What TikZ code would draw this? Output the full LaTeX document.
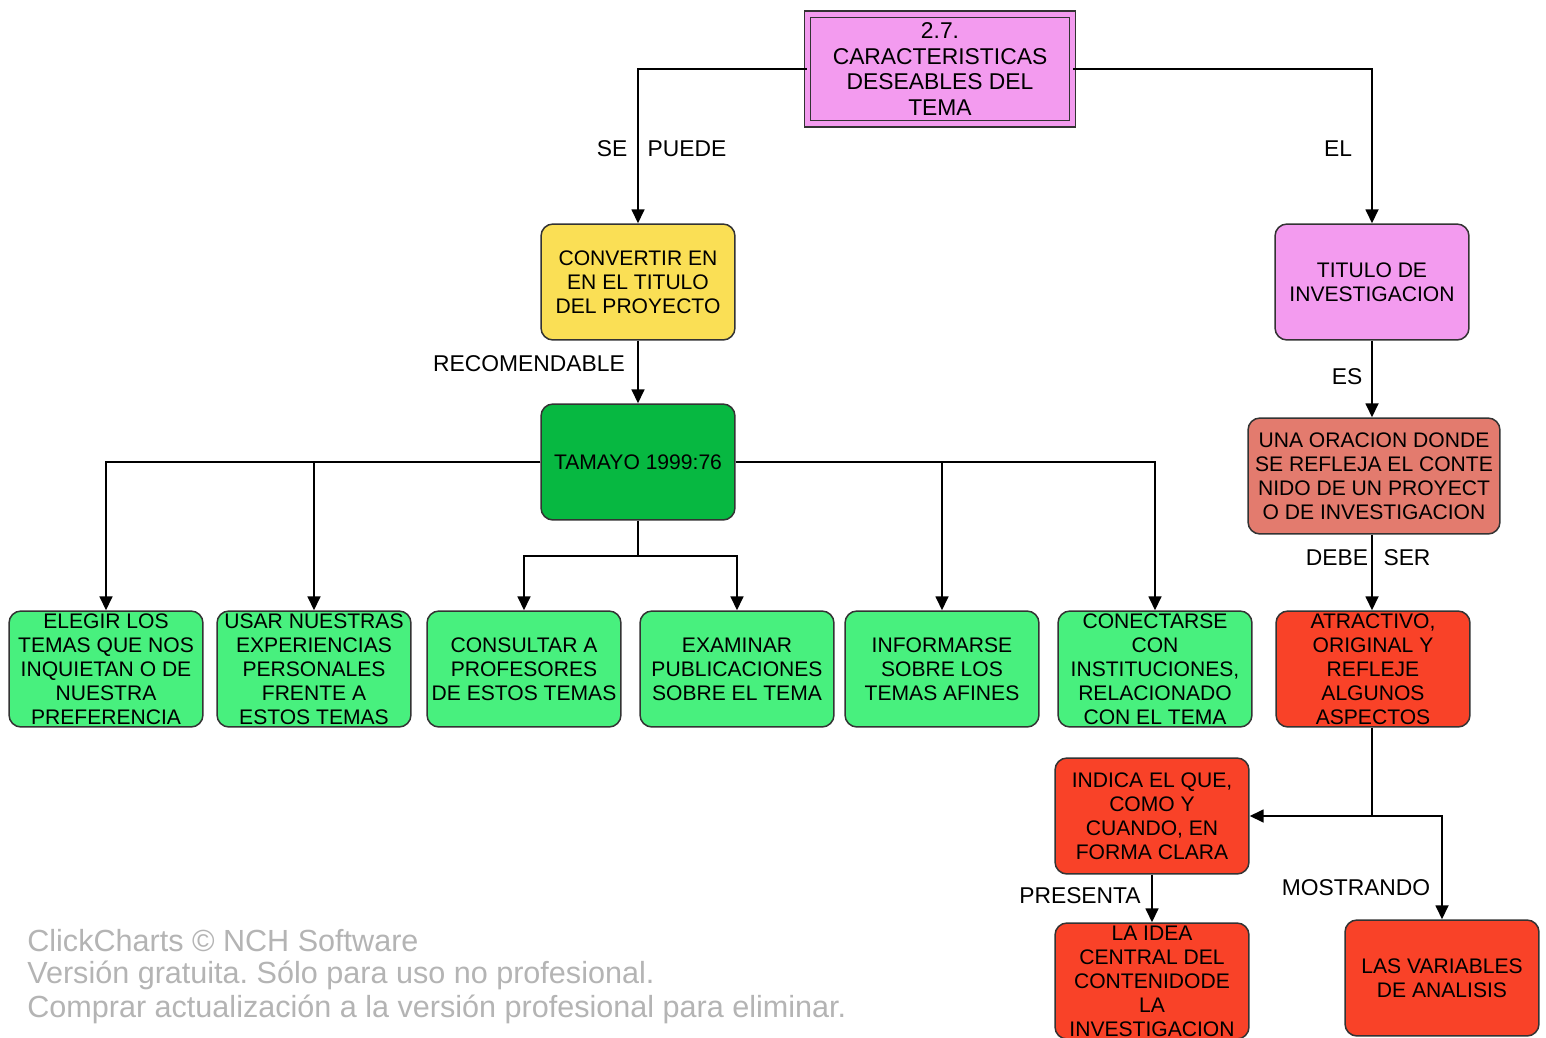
\documentclass[tikz,border=0pt]{standalone}
\usepackage{fontspec}
\setmainfont{Liberation Sans}
\usetikzlibrary{arrows.meta}
\frenchspacing
\definecolor{cviolet}{HTML}{F39BEF}
\definecolor{cyellow}{HTML}{FADF55}
\definecolor{cdgreen}{HTML}{07B841}
\definecolor{clgreen}{HTML}{48F07E}
\definecolor{csalmon}{HTML}{E37B6E}
\definecolor{cred}{HTML}{F94228}
\definecolor{cborder}{HTML}{333333}
\definecolor{cwater}{HTML}{B4B4B4}
\tikzset{
  box/.style={draw=cborder, line width=0.03cm, rounded corners=0.24cm,
    minimum width=3.88cm, minimum height=2.32cm, inner sep=0pt, align=center,
    font=\fontsize{12pt}{13.7pt}\selectfont},
  topbox/.style={draw=cborder, line width=0.025cm, double=cviolet, double distance=0.1cm,
    fill=cviolet, minimum width=5.3cm, minimum height=2.2cm, inner sep=0pt, align=center,
    font=\fontsize{13pt}{14.6pt}\selectfont},
  lbl/.style={font=\fontsize{13pt}{14.6pt}\selectfont, inner sep=0pt},
  arr/.style={line width=0.035cm, -{Triangle[length=0.28cm,width=0.26cm]}},
  ln/.style={line width=0.035cm},
  water/.style={text=cwater, anchor=west, inner sep=0pt, font=\fontsize{17.4pt}{19pt}\selectfont}
}
\begin{document}
\begin{tikzpicture}[x=0.02cm,y=-0.02cm]
\useasboundingbox (0,0) rectangle (1546,1038);
\fill[white] (0,0) rectangle (1546,1038);

% nodes
\node[topbox] (top) at (940,69) {2.7.\\CARACTERISTICAS\\DESEABLES DEL\\TEMA};
\node[box, fill=cyellow] (conv) at (638,282) {CONVERTIR EN\\EN EL TITULO\\DEL PROYECTO};
\node[box, fill=cviolet] (tit) at (1372,282) {TITULO DE\\INVESTIGACION};
\node[box, fill=cdgreen] (tam) at (638,462) {TAMAYO 1999:76};
\node[box, fill=csalmon, minimum width=5.04cm] (una) at (1374,476) {UNA ORACION DONDE\\SE REFLEJA EL CONTE\\NIDO DE UN PROYECT\\O DE INVESTIGACION};

\node[box, fill=clgreen] (elegir) at (106,669) {ELEGIR LOS\\TEMAS QUE NOS\\INQUIETAN O DE\\NUESTRA\\PREFERENCIA};
\node[box, fill=clgreen] (usar) at (314,669) {USAR NUESTRAS\\EXPERIENCIAS\\PERSONALES\\FRENTE A\\ESTOS TEMAS};
\node[box, fill=clgreen] (consultar) at (524,669) {CONSULTAR A\\PROFESORES\\DE ESTOS TEMAS};
\node[box, fill=clgreen] (examinar) at (737,669) {EXAMINAR\\PUBLICACIONES\\SOBRE EL TEMA};
\node[box, fill=clgreen] (informarse) at (942,669) {INFORMARSE\\SOBRE LOS\\TEMAS AFINES};
\node[box, fill=clgreen] (conectarse) at (1155,669) {CONECTARSE\\CON\\INSTITUCIONES,\\RELACIONADO\\CON EL TEMA};
\node[box, fill=cred] (atr) at (1373,669) {ATRACTIVO,\\ORIGINAL Y\\REFLEJE\\ALGUNOS\\ASPECTOS};

\node[box, fill=cred] (indica) at (1152,816) {INDICA EL QUE,\\COMO Y\\CUANDO, EN\\FORMA CLARA};
\node[box, fill=cred] (idea) at (1152,981) {LA IDEA\\CENTRAL DEL\\CONTENIDODE\\LA\\INVESTIGACION};
\node[box, fill=cred] (vars) at (1442,978) {LAS VARIABLES\\DE ANALISIS};

% junctions
\coordinate (j1) at (638,556);
\coordinate (j2) at (1372,816);

% connectors
\draw[arr] (top.west) -| (conv.north);
\draw[arr] (top.east) -| (tit.north);
\draw[arr] (conv.south) -- (tam.north);
\draw[arr] (tam.west) -| (elegir.north);
\draw[arr] (tam.west) -| (usar.north);
\draw[arr] (tam.east) -| (informarse.north);
\draw[arr] (tam.east) -| (conectarse.north);
\draw[ln] (tam.south) -- (j1);
\draw[arr] (j1) -| (consultar.north);
\draw[arr] (j1) -| (examinar.north);
\draw[arr] (tit.south) -- (una.north -| tit.south);
\draw[arr] (una.south -| tit.south) -- (atr.north -| tit.south);
\draw[ln] (atr.south -| j2) -- (j2);
\draw[arr] (j2) -- (indica.east);
\draw[arr] (j2) -| (vars.north);
\draw[arr] (indica.south) -- (idea.north);

% labels
\node[lbl] (l1) at (612,149) {SE};
\node[lbl] (l2) at (687,149) {PUEDE};
\node[lbl] (l3) at (1338,149) {EL};
\node[lbl] (l4) at (529,364) {RECOMENDABLE};
\node[lbl] (l5) at (1347,377) {ES};
\node[lbl] (l6) at (1337,558) {DEBE};
\node[lbl] (l7) at (1407,558) {SER};
\node[lbl] (l8) at (1080,896) {PRESENTA};
\node[lbl] (l9) at (1356,888) {MOSTRANDO};

% watermark
\node[water] (w1) at (27,941) {ClickCharts © NCH Software};
\node[water] (w2) at (27,975) {Versión gratuita. Sólo para uso no profesional.};
\node[water] (w3) at (27,1009) {Comprar actualización a la versión profesional para eliminar.};
\end{tikzpicture}
\end{document}
